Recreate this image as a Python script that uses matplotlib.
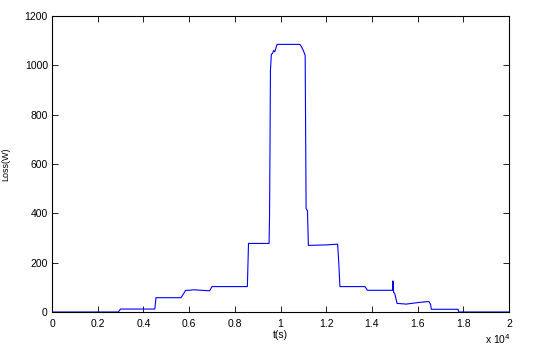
import matplotlib
matplotlib.use("Agg")
import matplotlib.pyplot as plt
import numpy as np

plt.rcParams['font.family'] = ['Liberation Sans', 'DejaVu Sans']

# time in seconds, loss in W
t_s = [0, 2900, 3000, 4500, 4550, 5650, 5850, 6000, 6200, 6900, 7000,
       8550, 8600, 9500, 9520, 9540, 9560, 9600, 9650, 9700, 9750, 9800, 9850,
       10850, 10900, 11000, 11080, 11120, 11180, 11220, 12000, 12500,
       12550, 12600, 13700, 13800, 14900, 14920, 14950, 15000, 15100,
       15500, 16000, 16400, 16500, 16570, 16600, 17700, 17770, 17800, 20000]
loss_w = [0, 0, 12, 12, 58, 58, 88, 88, 90, 86, 103,
          103, 278, 278, 385, 660, 980, 1045, 1048, 1060, 1055, 1070, 1085,
          1085, 1078, 1060, 1040, 420, 410, 270, 272, 275,
          200, 103, 103, 88, 88, 126, 80, 75, 35,
          32, 38, 42, 42, 30, 11, 11, 11, 0, 0]

x_ticks = [0, 0.2, 0.4, 0.6, 0.8, 1, 1.2, 1.4, 1.6, 1.8, 2]
y_ticks = [0, 200, 400, 600, 800, 1000, 1200]

fig = plt.figure(figsize=(5.39, 3.48), dpi=100)
ax = fig.add_axes([52 / 539, 36 / 348, 457 / 539, 296 / 348])

ax.plot(np.array(t_s) / 1e4, loss_w, color='#0000ff', linewidth=0.8)

ax.set_xlim(0, 2)
ax.set_ylim(0, 1200)
ax.set_xticks(x_ticks)
ax.set_xticklabels([f"{v:g}" for v in x_ticks])
ax.set_yticks(y_ticks)
ax.tick_params(direction='in', length=4, width=0.6, labelsize=7.5,
               top=True, right=True)
ax.tick_params(axis='x', pad=5)
ax.tick_params(axis='y', pad=3)
for s in ax.spines.values():
    s.set_linewidth(0.8)

ax.set_xlabel("t(s)", fontsize=7.5, labelpad=1)
ax.set_ylabel("Loss(W)", fontsize=6.5, labelpad=10)
fig.text(485 / 539, 1 - 339 / 348, r"x 10$^{4}$", fontsize=7.5, va='center')

fig.savefig("out.png", dpi=100)
